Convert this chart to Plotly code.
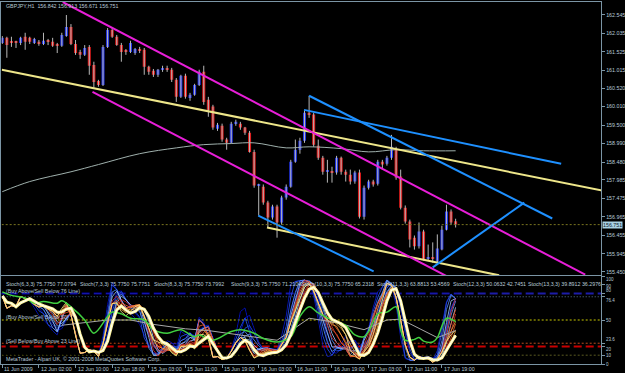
import plotly.graph_objects as go
import numpy as np

# ---------------- data ----------------
open_ = [161.77,161.91,161.80,161.80,161.77,161.94,161.91,161.77,161.80,161.74,
         161.81,161.80,161.74,161.69,161.96,162.21,161.74,161.52,161.44,161.66,
         161.16,160.72,160.61,161.66,162.13,161.94,161.71,161.55,161.52,161.49,
         161.58,161.58,161.11,161.00,160.89,161.03,161.08,161.03,160.75,160.28,
         160.86,160.25,160.34,160.61,160.97,160.20,160.01,159.40,159.48,159.10,
         159.01,159.54,159.54,159.43,159.29,158.76,157.83,157.80,157.36,156.95,
         157.25,156.81,157.50,157.80,158.49,158.82,159.07,159.84,159.79,158.93,
         158.60,158.21,158.21,158.19,158.60,158.21,158.13,157.94,158.19,156.97,
         157.77,157.94,157.88,158.49,158.43,158.60,158.82,158.08,157.22,156.84,
         156.39,156.15,156.56,155.81,155.84,155.73,156.06,156.61,157.11,156.842]
high = [161.96,161.94,161.94,161.83,161.94,162.05,161.94,161.91,161.85,162.05,
        161.88,161.91,161.77,162.05,162.54,162.29,161.85,161.58,161.71,161.71,
        161.25,160.75,161.71,162.18,162.18,161.99,161.77,161.60,161.83,161.63,
        161.66,161.63,161.14,161.05,161.05,161.14,161.14,161.08,160.80,160.89,
        160.92,160.39,160.64,161.03,161.14,160.28,160.06,159.56,159.54,159.15,
        159.59,159.65,159.59,159.45,159.34,158.82,157.88,157.86,157.41,157.30,
        157.30,157.55,157.86,158.54,159.10,159.15,159.90,160.31,159.84,159.10,
        158.65,158.54,158.35,158.65,158.63,158.27,158.27,158.24,158.27,157.83,
        157.99,157.99,158.54,158.54,158.65,159.23,158.90,158.27,157.28,156.89,
        156.45,156.81,156.61,156.20,156.26,156.48,156.72,157.30,157.17,156.913]
low = [161.74,161.36,161.66,161.63,161.71,161.58,161.74,161.74,161.69,161.71,
       161.71,161.66,161.49,161.66,161.94,161.71,161.44,161.33,161.41,160.89,
       160.53,160.56,160.58,161.63,161.91,161.69,161.25,161.44,161.49,161.44,
       161.49,160.89,160.89,160.83,160.83,160.97,160.97,160.69,160.14,160.25,
       160.23,160.17,160.31,160.58,160.06,159.73,159.37,159.34,159.04,158.82,
       158.99,159.48,159.37,159.23,158.74,157.77,157.00,157.30,156.67,156.89,
       156.39,156.75,157.44,157.77,158.46,158.71,159.01,159.70,158.90,158.54,
       158.13,157.91,157.91,158.13,158.13,157.94,157.86,157.88,156.92,156.89,
       157.72,157.80,157.83,158.27,158.38,158.54,157.99,157.17,156.78,156.12,
       156.06,156.09,155.76,155.76,155.70,155.70,156.04,156.59,156.75,156.671]
close = [161.91,161.71,161.78,161.77,161.91,161.80,161.80,161.88,161.74,161.83,
         161.80,161.69,161.71,161.99,162.21,161.74,161.49,161.44,161.63,161.14,
         160.69,160.61,161.66,162.13,161.94,161.71,161.52,161.52,161.77,161.60,
         161.55,161.11,160.97,160.89,161.03,161.08,161.03,160.75,160.28,160.86,
         160.28,160.34,160.61,160.97,160.14,159.92,159.43,159.51,159.10,159.01,
         159.54,159.59,159.43,159.29,158.76,157.83,157.86,157.36,156.95,157.25,
         156.81,157.50,157.80,158.49,158.82,159.07,159.84,159.79,158.96,158.60,
         158.21,158.23,158.19,158.60,158.21,158.13,157.94,158.19,156.97,157.77,
         157.94,157.86,158.49,158.41,158.60,158.90,158.05,157.22,156.84,156.34,
         156.15,156.56,155.79,155.84,155.81,156.09,156.61,157.11,156.81,156.751]

# 200-period moving average (read at several bars)
ma_bars = [0, 6, 15, 21, 30, 38, 44, 50, 55, 62, 67, 74, 80, 86, 92, 99]
ma_vals = [157.66, 157.94, 158.21, 158.41, 158.71, 158.87, 158.96, 158.99, 159.01,
           158.87, 158.90, 158.85, 158.76, 158.82, 158.79, 158.79]

# drawn trend lines: (bar index pair, price pair)
magenta_up_x, magenta_up_y = [13.2, 127.3], [162.90, 155.37]
magenta_lo_x, magenta_lo_y = [19.7, 97.0], [160.42, 155.33]
yellow_up_x, yellow_up_y = [-0.1, 131.0], [161.03, 157.69]
yellow_lo_x, yellow_lo_y = [57.8, 108.5], [156.67, 155.35]
blue_a_x, blue_a_y = [67.0, 120.1], [160.31, 156.92]
blue_b_x, blue_b_y = [65.9, 122.05], [159.92, 158.43]
blue_c_x, blue_c_y = [55.9, 81.1], [157.00, 155.46]
blue_r_x, blue_r_y = [94.0, 114.0], [155.57, 157.36]

last_price = 156.751
price_ticks = [162.545, 162.035, 161.525, 161.015, 160.520, 160.010, 159.500,
               158.990, 158.480, 157.985, 157.475, 156.965, 156.455, 155.945, 155.450]

time_bars = [0, 8, 16, 24, 32, 40, 48, 56, 64, 72, 80, 88, 96]
time_labels = ["11 Jun 2009", "12 Jun 02:00", "12 Jun 10:00", "12 Jun 18:00",
               "15 Jun 03:00", "15 Jun 11:00", "15 Jun 19:00", "16 Jun 03:00",
               "16 Jun 11:00", "16 Jun 19:00", "17 Jun 03:00", "17 Jun 11:00",
               "17 Jun 19:00"]

stoch_periods = [6, 7, 8, 9, 10, 11, 12, 13]
stoch_colors = ["#1020c8", "#2e54e8", "#5a8cf0", "#9fc2f4",
                "#c83030", "#ec5a28", "#f4a040", "#fff08a"]
stoch_header = ["Stoch(6,3,3) 75.7750 77.0794", "Stoch(7,3,3) 75.7750 75.7751",
                "Stoch(8,3,3) 75.7750 73.7992", "Stoch(9,3,3) 75.7750 71.2104",
                "Stoch(10,3,3) 75.7750 65.2318", "Stoch(11,3,3) 63.8813 53.4569",
                "Stoch(12,3,3) 50.0632 42.7451", "Stoch(13,3,3) 39.8912 36.2976"]
stoch_header_x = [4, 78, 152, 230, 300, 376, 452, 528]

green_bars = [0, 2, 5, 7, 9, 12, 13, 15, 18, 20, 23, 24, 26, 28, 31, 33, 36, 39, 42, 43,
              46, 50, 52, 55, 57, 60, 63, 65, 67, 69, 72, 75, 77, 79, 80, 82, 84, 86,
              87, 88, 90, 91, 92, 94, 95, 97, 99]
green_vals = [82, 78, 75, 69, 71, 69, 72, 65, 50, 35, 54, 59, 57, 52, 50, 39, 35, 39, 31, 33,
              27, 37, 39, 35, 29, 25, 31, 54, 65, 58, 50, 44, 33, 31, 37, 57, 59, 65,
              39, 27, 28, 30, 26, 25, 30, 52, 48]
grey_bars = [13, 23, 28, 33, 40, 45, 60, 67, 72, 79, 84, 87, 95, 99]
grey_vals = [44, 50, 50, 45, 40, 38, 27, 52, 48, 39, 50, 51, 30, 38]

levels = [80, 76.4, 50, 23.6, 20, 10]
level_colors = ["#1c1ca8", "#5a7890", "#c8c800", "#c04a20", "#c80000", "#5a5a20"]
level_dash = ["8px,4px", "1px,2px", "2px,2px", "2px,2px", "8px,4px", "2px,2px"]
level_width = [2, 1, 1, 1, 2, 1]
level_text = [(80, "(Buy Above/Sell Below 76 Line)"), (50, "(Buy Above/Sell Below 50)"),
              (23.6, "(Sell Below/Buy Above 23 Line)")]
sub_ticks = [0, 10, 20, 23.6, 50, 76.4, 80, 90, 100]
sub_label_pos = [0, 9.3, 20, 23.6, 50, 76.4, 79.4, 88.3, 100]
sub_label_anchor = ["middle", "middle", "top", "bottom", "middle", "top", "bottom", "middle", "top"]

# ---------------- helpers ----------------
def stoch(k, slow=3, sig=3):
    n = len(close)
    num, den = [], []
    for t in range(n):
        a = max(0, t - k + 1)
        hh = max(high[a:t + 1]); ll = min(low[a:t + 1])
        num.append(close[t] - ll); den.append(hh - ll)
    K = []
    for t in range(n):
        a = max(0, t - slow + 1)
        s = sum(den[a:t + 1])
        K.append(100 * sum(num[a:t + 1]) / s if s > 0 else 50)
    D = [float(np.mean(K[max(0, t - sig + 1):t + 1])) for t in range(n)]
    return K, D

FONT = "Liberation Sans, Arial, sans-serif"
FS = 5.3
TXT = "#b9cbd8"
AX = "#7b95a5"

bars_idx = list(range(len(close)))
fig = go.Figure()

# wicks
wx, wy = [], []
for i in bars_idx:
    wx += [i, i, None]; wy += [low[i], high[i], None]
fig.add_trace(go.Scatter(x=wx, y=wy, mode="lines", line=dict(color="#b8b8b8", width=1),
                         hoverinfo="skip", xaxis="x", yaxis="y"))
# bodies
base = [min(o, c) for o, c in zip(open_, close)]
hgt = [max(abs(c - o), 0.03) for o, c in zip(open_, close)]
cols = ["#2436e8" if c > o else "#e01c1c" for o, c in zip(open_, close)]
fig.add_trace(go.Bar(x=bars_idx, y=hgt, base=base, width=0.66, marker=dict(color=cols, line=dict(width=0)),
                     xaxis="x", yaxis="y"))

# MA
fig.add_trace(go.Scatter(x=ma_bars, y=ma_vals, mode="lines", line=dict(color="#9fb0ac", width=1),
                         line_shape="spline", xaxis="x", yaxis="y"))

def tl(x, y, color, w=2):
    fig.add_trace(go.Scatter(x=x, y=y, mode="lines", line=dict(color=color, width=w),
                             xaxis="x", yaxis="y"))

tl(yellow_up_x, yellow_up_y, "#eee68a")
tl(yellow_lo_x, yellow_lo_y, "#eee68a")
tl(magenta_up_x, magenta_up_y, "#e81ed8")
tl(magenta_lo_x, magenta_lo_y, "#e81ed8")
tl(blue_a_x, blue_a_y, "#1e90ff")
tl(blue_b_x, blue_b_y, "#1e90ff")
tl(blue_c_x, blue_c_y, "#1e90ff")
tl(blue_r_x, blue_r_y, "#1e90ff")

# current price line
fig.add_trace(go.Scatter(x=[-1, 132], y=[last_price, last_price], mode="lines",
                         line=dict(color="#7a7420", width=1, dash="2px,2px"), xaxis="x", yaxis="y"))

# ---------------- sub panel ----------------
for lv, c, d, w in zip(levels, level_colors, level_dash, level_width):
    fig.add_trace(go.Scatter(x=[-1, 132], y=[lv, lv], mode="lines",
                             line=dict(color=c, width=w, dash=d), xaxis="x2", yaxis="y2"))

for k, c in zip(stoch_periods, stoch_colors):
    K, D = stoch(k)
    fig.add_trace(go.Scatter(x=bars_idx, y=D, mode="lines", line=dict(color=c, width=1),
                             opacity=0.85, xaxis="x2", yaxis="y2"))
    fig.add_trace(go.Scatter(x=bars_idx, y=K, mode="lines", line=dict(color=c, width=1),
                             opacity=0.85, xaxis="x2", yaxis="y2"))

fig.add_trace(go.Scatter(x=grey_bars, y=grey_vals, mode="lines", line=dict(color="#a8a8a8", width=1),
                         xaxis="x2", yaxis="y2"))
fig.add_trace(go.Scatter(x=green_bars, y=green_vals, mode="lines", line=dict(color="#40d040", width=1.5),
                         line_shape="spline", xaxis="x2", yaxis="y2"))
K13, D13 = stoch(13)
fig.add_trace(go.Scatter(x=bars_idx, y=D13, mode="lines", line=dict(color="#fff6a0", width=3),
                         xaxis="x2", yaxis="y2"))
fig.add_trace(go.Scatter(x=bars_idx, y=D13, mode="lines", line=dict(color="#ffffff", width=1),
                         xaxis="x2", yaxis="y2"))

# ---------------- annotations ----------------
def note(text, x, y, xref="paper", yref="paper", size=FS, **kw):
    d = dict(text=text, x=x, y=y, xref=xref, yref=yref, xanchor="left", yanchor="middle",
             showarrow=False, font=dict(family=FONT, size=size, color=kw.pop("color", TXT)))
    d.update(kw)
    return d

ann = [note("GBPJPY,H1  156.842 156.913 156.671 156.751", 4 / 625, 1 - 6 / 373)]
for t, xp in zip(stoch_header, stoch_header_x):
    ann.append(note(t, xp / 625, 1 - 284 / 373))
for lv, t in level_text:
    ann.append(note(t, 4 / 625, lv + 3, yref="y2"))
ann.append(note("MetaTrader - Alpari UK, © 2001-2008 MetaQuotes Software Corp.", 4 / 625, 1 - 359 / 373))
for b, t in zip(time_bars, time_labels):
    ann.append(note(t, b, 1 - 368.5 / 373, xref="x2"))
for v, p, a in zip(sub_ticks, sub_label_pos, sub_label_anchor):
    ann.append(note(("%g" % v), 607 / 625, p, yref="y2", yanchor=a, size=4.5, borderpad=0))
ann.append(note("156.751", 604 / 625, last_price, yref="y", bgcolor="#a9d2e4", borderpad=0,
                color="#10202a"))

xd = [1.5 / 625, 603 / 625]
xr = [-0.17, 130.76]
fig.update_layout(
    width=625, height=373, margin=dict(l=0, r=0, t=0, b=0),
    paper_bgcolor="#000000", plot_bgcolor="#000000", showlegend=False,
    annotations=ann, hovermode=False, barmode="overlay",
    xaxis=dict(domain=xd, range=xr, anchor="y", showgrid=False, zeroline=False,
               showticklabels=False, showline=True, mirror=True, linecolor=AX, linewidth=1,
               ticks=""),
    yaxis=dict(domain=[1 - 275 / 373, 1 - 2 / 373], range=[155.359, 162.90], side="right",
               anchor="x", showgrid=False, zeroline=False, showline=True, mirror=True,
               linecolor=AX, linewidth=1, tickvals=price_ticks,
               ticktext=["%.3f" % v for v in price_ticks], ticks="outside", ticklen=3,
               tickcolor=AX, tickfont=dict(family=FONT, size=FS, color=TXT)),
    xaxis2=dict(domain=xd, range=xr, anchor="y2", matches="x", showgrid=False, zeroline=False,
                showticklabels=False, showline=True, mirror=True, linecolor=AX, linewidth=1,
                tickvals=time_bars, ticks="outside", ticklen=3, tickcolor=AX),
    yaxis2=dict(domain=[1 - 364 / 373, 1 - 276 / 373], range=[0, 100], side="right", anchor="x2",
                showgrid=False, zeroline=False, showline=True, mirror=True, linecolor=AX,
                linewidth=1, tickvals=sub_ticks, showticklabels=False,
                ticks="outside", ticklen=3, tickcolor=AX),
)
fig.write_html("out.html")
